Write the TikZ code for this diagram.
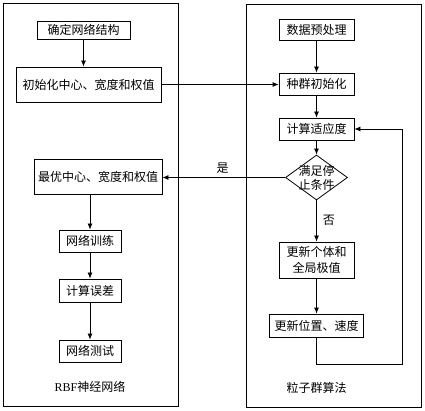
\documentclass[tikz,border=0pt]{standalone}
\usepackage{fontspec}
\setmainfont{Liberation Serif}
\newfontfamily\cjk{Noto Sans CJK SC}
\usetikzlibrary{arrows.meta,shapes.geometric}
\begin{document}
\begin{tikzpicture}[x=1pt,y=-1pt,
  line width=0.8pt,
  box/.style={draw,rectangle,inner sep=0pt,align=center,font=\cjk\fontsize{12}{16}\selectfont},
  txt/.style={inner sep=0pt,align=center,font=\cjk\fontsize{12}{14}\selectfont},
  arr/.style={-{Latex[length=6pt,width=5pt]}}]
\useasboundingbox (0,0) rectangle (425,411);
% outer frames
\draw (3,3) rectangle (178,406);
\draw (246,4) rectangle (421,407);
% left column
\node[box,minimum width=93pt,minimum height=18pt] (n1) at (83.5,30) {确定网络结构};
\node[box,minimum width=145pt,minimum height=35pt] (n2) at (88.5,84.5) {初始化中心、宽度和权值};
\node[box,minimum width=128pt,minimum height=35pt] (n3) at (98,176.5) {最优中心、宽度和权值};
\node[box,minimum width=62pt,minimum height=22pt] (n4) at (90,241) {网络训练};
\node[box,minimum width=62pt,minimum height=23pt] (n5) at (90,290.5) {计算误差};
\node[box,minimum width=62pt,minimum height=22pt] (n6) at (90,351) {网络测试};
\node[txt] (labL) at (90,387) {{\rmfamily\fontsize{12}{14}\selectfont RBF}神经网络};
% right column
\node[box,minimum width=75pt,minimum height=21pt] (r1) at (316.5,29.5) {数据预处理};
\node[box,minimum width=75pt,minimum height=22pt] (r2) at (316.5,84) {种群初始化};
\node[box,minimum width=75pt,minimum height=22pt] (r3) at (316.5,129) {计算适应度};
\node[draw,diamond,inner sep=0pt,minimum width=62pt,minimum height=45pt] (d) at (316.5,177.5) {};
\node[txt] (dtext) at (d.center) {满足停\\止条件};
\node[box,minimum width=75pt,minimum height=36pt] (u1) at (316.5,260) {更新个体和\\全局极值};
\node[box,minimum width=94pt,minimum height=23pt] (u2) at (316.5,325.5) {更新位置、速度};
\node[txt] (labR) at (316.5,388) {粒子群算法};
\coordinate (lc) at (402,364);
% connectors
\draw[arr] (n1.south) -- (n1.south |- n2.north);
\draw[arr] (n2.east) -- (r2.west |- n2.east);
\draw[arr] (n3.south -| n4.north) -- (n4.north);
\draw[arr] (n4) -- (n5);
\draw[arr] (n5) -- (n6);
\draw[arr] (r1) -- (r2);
\draw[arr] (r2) -- (r3);
\draw[arr] (r3) -- (d);
\draw[arr] (d) -- node[txt,right=6pt,pos=0.48] (no) {否} (u1);
\draw[arr] (u1) -- (u2);
\draw[arr] (d.west) -- node[txt,above=4pt,pos=0.51] (yes) {是} (n3.east |- d.west);
\draw[arr] (u2.south) |- (lc) |- (r3.east);
\end{tikzpicture}
\end{document}
